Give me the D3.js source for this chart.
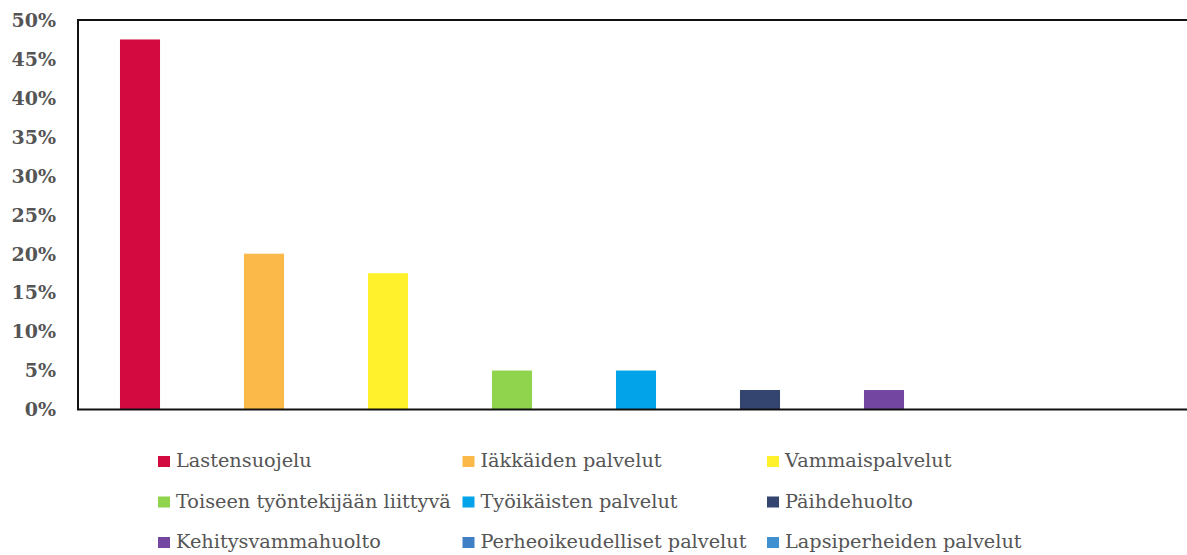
<!DOCTYPE html>
<meta charset="utf-8">
<style>
body { margin: 0; background: #fff; }
.tick-label { font-family: "DejaVu Serif", serif; font-weight: bold; font-size: 19px; fill: #555; }
.legend-label { font-family: "DejaVu Serif", serif; font-size: 19.3px; fill: #555; }
.frame { fill: none; stroke: #111; stroke-width: 2; }
</style>
<svg width="1187" height="555"></svg>
<script src="https://d3js.org/d3.v7.min.js"></script>
<script>

var categories = ["Lastensuojelu", "Iäkkäiden palvelut", "Vammaispalvelut",
  "Toiseen työntekijään liittyvä", "Työikäisten palvelut", "Päihdehuolto",
  "Kehitysvammahuolto", "Perheoikeudelliset palvelut", "Lapsiperheiden palvelut"];
var values = [0.475, 0.20, 0.175, 0.05, 0.05, 0.025, 0.025, 0, 0];
var colors = ["#d20a40", "#fbb94a", "#fff22c", "#8fd44c", "#02a3e8", "#34456f",
  "#7346a1", "#3f7fc6", "#3f90d0"];
var yTicks = [0, 0.05, 0.1, 0.15, 0.2, 0.25, 0.3, 0.35, 0.4, 0.45, 0.5];

var svg = d3.select("svg");

var plotLeft = 78, plotRight = 1194, plotTop = 20, plotBottom = 409.5;

var x = d3.scaleBand()
    .domain(categories)
    .range([plotLeft, plotRight])
    .paddingInner(0.677)
    .paddingOuter(0.3385);

var y = d3.scaleLinear()
    .domain([0, 0.5])
    .range([plotBottom, plotTop]);

// bars
svg.append("g")
  .selectAll("rect")
  .data(categories)
  .enter()
  .append("rect")
    .attr("x", function(d) { return x(d); })
    .attr("y", function(d, i) { return y(values[i]); })
    .attr("width", x.bandwidth())
    .attr("height", function(d, i) { return plotBottom - y(values[i]); })
    .attr("fill", function(d, i) { return colors[i]; });

// frame: top, left and bottom lines
svg.append("path")
    .attr("class", "frame")
    .attr("d", "M" + plotRight + "," + plotTop + "H" + plotLeft + "V" + plotBottom + "H" + plotRight);

// y tick labels
svg.append("g")
  .selectAll("text")
  .data(yTicks)
  .enter()
  .append("text")
    .attr("class", "tick-label")
    .attr("x", 56)
    .attr("y", function(d) { return y(d); })
    .attr("dy", "0.36em")
    .attr("text-anchor", "end")
    .text(d3.format(".0%"));

// legend, 3 columns
var legend = svg.append("g")
  .selectAll("g")
  .data(categories)
  .enter()
  .append("g")
    .attr("transform", function(d, i) {
      return "translate(" + (158 + (i % 3) * 304.5) + "," + (467 + Math.floor(i / 3) * 40.5) + ")";
    });

legend.append("rect")
    .attr("x", 0)
    .attr("y", -11)
    .attr("width", 12)
    .attr("height", 11)
    .attr("fill", function(d, i) { return colors[i]; });

legend.append("text")
    .attr("class", "legend-label")
    .attr("x", 18)
    .attr("y", 0)
    .text(function(d) { return d; });

</script>
